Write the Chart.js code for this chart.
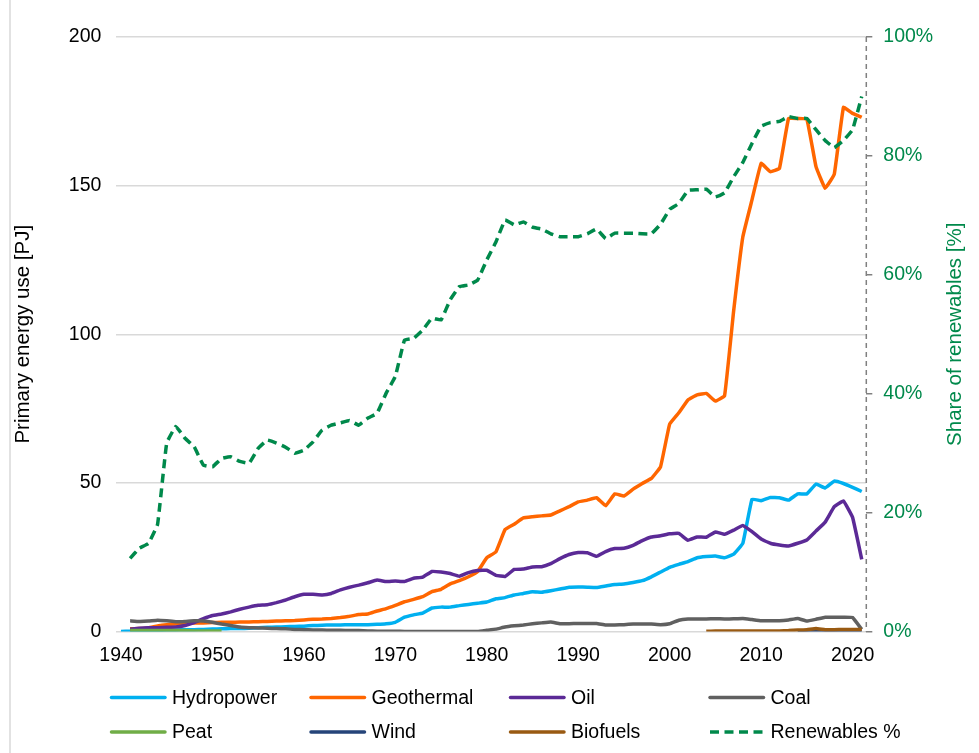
<!DOCTYPE html>
<html>
<head>
<meta charset="utf-8">
<title>Primary energy use and share of renewables</title>
<script src="https://cdn.jsdelivr.net/npm/chart.js@4/dist/chart.umd.min.js"></script>
<style>
  html, body { margin: 0; padding: 0; background: #ffffff; }
  #wrap { position: relative; width: 979px; height: 753px; }
  canvas { display: block; }
</style>
</head>
<body>
<div id="wrap"><canvas id="chart" width="979" height="753"></canvas></div>
<script>
// Years on the category axis
const years = [];
for (let y = 1940; y <= 2021; y++) years.push(y);

// Primary energy use by source [PJ], one value per year from 1940
const hydropower = [
  0.0, 0.1, 0.2, 0.3, 0.4, 0.5, 0.5, 0.6, 0.6, 0.7,
  0.8, 0.9, 1.0, 1.0, 1.1, 1.3, 1.4, 1.5, 1.6, 1.7,
  1.8, 2.0, 2.1, 2.2, 2.2, 2.3, 2.3, 2.3, 2.4, 2.6,
  3.1, 4.8, 5.6, 6.2, 7.9, 8.2, 8.2, 8.7, 9.1, 9.5,
  9.9, 11.0, 11.4, 12.3, 12.8, 13.4, 13.2, 13.7, 14.3, 14.9,
  15.0, 14.9, 14.8, 15.3, 15.8, 16.0, 16.5, 17.1, 18.4, 20.0,
  21.6, 22.6, 23.5, 24.8, 25.2, 25.4, 24.8, 26.0, 29.7, 44.5,
  44.0, 45.1, 45.0, 44.2, 46.3, 46.3, 49.6, 48.3, 50.6, 49.8,
  48.5, 47.1
];
const geothermal = [
  null, 0.9, 1.0, 1.2, 1.9, 2.3, 2.5, 2.7, 2.9, 2.9,
  3.0, 3.1, 3.1, 3.2, 3.2, 3.3, 3.4, 3.5, 3.6, 3.7,
  3.9, 4.1, 4.2, 4.4, 4.7, 5.1, 5.7, 5.9, 6.9, 7.7,
  8.8, 10.0, 10.8, 11.7, 13.4, 14.2, 16.0, 17.1, 18.4, 20.2,
  24.8, 26.8, 34.3, 36.1, 38.2, 38.6, 38.9, 39.2, 40.6, 42.0,
  43.6, 44.2, 45.0, 42.3, 46.3, 45.6, 47.9, 49.8, 51.5, 55.4,
  69.8, 73.6, 77.9, 79.6, 80.1, 77.5, 79.3, 108.0, 132.8, 145.2,
  157.5, 154.7, 155.8, 172.6, 172.6, 172.4, 156.4, 149.1, 153.9, 176.3,
  174.3, 173.0
];
const oil = [
  null, 0.8, 1.1, 1.3, 1.3, 1.4, 1.5, 2.0, 3.0, 4.3,
  5.4, 5.9, 6.6, 7.5, 8.2, 8.8, 9.0, 9.7, 10.6, 11.7,
  12.5, 12.5, 12.3, 12.8, 14.0, 14.9, 15.6, 16.4, 17.3, 16.8,
  17.0, 16.8, 17.9, 18.3, 20.2, 20.0, 19.5, 18.6, 19.8, 20.5,
  20.6, 18.9, 18.5, 20.9, 21.0, 21.7, 21.8, 22.8, 24.5, 25.9,
  26.6, 26.5, 25.3, 26.9, 27.9, 28.0, 29.0, 30.6, 31.8, 32.2,
  32.9, 33.0, 30.7, 31.8, 31.7, 33.5, 32.7, 34.1, 35.7, 33.6,
  31.1, 29.7, 29.1, 28.8, 29.7, 30.8, 33.8, 36.8, 42.0, 43.9,
  38.4, 24.3
];
const coal = [
  null, 3.6, 3.4, 3.5, 3.8, 3.6, 3.3, 3.4, 3.6, 3.5,
  3.1, 2.5, 2.0, 1.5, 1.3, 1.2, 1.1, 1.0, 0.9, 0.7,
  0.6, 0.5, 0.5, 0.4, 0.4, 0.3, 0.3, 0.2, 0.1, 0.1,
  0.1, 0.0, 0.0, 0.0, 0.0, 0.0, 0.0, 0.0, 0.0, 0.0,
  0.4, 0.8, 1.5, 1.9, 2.2, 2.6, 2.9, 3.2, 2.6, 2.6,
  2.7, 2.7, 2.7, 2.2, 2.2, 2.3, 2.5, 2.5, 2.5, 2.3,
  2.6, 3.8, 4.2, 4.2, 4.2, 4.3, 4.2, 4.3, 4.4, 4.0,
  3.6, 3.6, 3.6, 3.9, 4.4, 3.5, 4.1, 4.8, 4.8, 4.8,
  4.7, 0.7
];
const peat = [
  null, 0.3, 0.3, 0.3, 0.3, 0.3, 0.3, 0.3, 0.2, 0.2,
  0.2, 0.2, null, null, null, null, null, null, null, null,
  null, null, null, null, null, null, null, null, null, null,
  null, null, null, null, null, null, null, null, null, null,
  null, null, null, null, null, null, null, null, null, null,
  null, null, null, null, null, null, null, null, null, null,
  null, null, null, null, null, null, null, null, null, null,
  null, null, null, null, null, null, null, null, null, null,
  null, null
];
const wind = [
  null, null, null, null, null, null, null, null, null, null,
  null, null, null, null, null, null, null, null, null, null,
  null, null, null, null, null, null, null, null, null, null,
  null, null, null, null, null, null, null, null, null, null,
  null, null, null, null, null, null, null, null, null, null,
  null, null, null, null, null, null, null, null, null, null,
  null, null, null, null, null, null, null, null, null, null,
  null, null, null, null, 0.02, 0.03, 0.05, 0.05, 0.05, 0.05,
  0.05, 0.05
];
const biofuels = [
  null, null, null, null, null, null, null, null, null, null,
  null, null, null, null, null, null, null, null, null, null,
  null, null, null, null, null, null, null, null, null, null,
  null, null, null, null, null, null, null, null, null, null,
  null, null, null, null, null, null, null, null, null, null,
  null, null, null, null, null, null, null, null, null, null,
  null, null, null, null, 0.1, 0.15, 0.2, 0.2, 0.2, 0.2,
  0.2, 0.2, 0.2, 0.3, 0.5, 0.6, 1.0, 0.6, 0.6, 0.7,
  0.7, 0.7
];

// Share of renewables in primary energy use [%]
const renewablesShare = [
  null, 12.3, 14.0, 14.8, 18.0, 31.7, 34.5, 32.5, 31.1, 28.0,
  27.7, 29.1, 29.4, 28.6, 28.3, 30.8, 32.2, 31.7, 31.0, 30.0,
  30.5, 31.9, 33.9, 34.7, 35.1, 35.5, 34.7, 35.9, 36.7, 40.1,
  42.9, 49.0, 49.3, 50.7, 52.7, 52.4, 55.8, 58.0, 58.3, 59.1,
  62.5, 65.5, 69.2, 68.4, 68.9, 68.0, 67.7, 66.9, 66.4, 66.4,
  66.4, 66.9, 67.7, 66.1, 67.0, 67.0, 67.0, 66.9, 66.9, 68.5,
  71.0, 72.0, 74.2, 74.3, 74.4, 73.1, 73.8, 76.5, 78.9, 82.1,
  85.0, 85.6, 85.8, 86.6, 86.3, 86.3, 84.4, 82.6, 81.4, 82.6,
  84.4, 90.0
];

// Axis tick settings
const energyTicks = { min: 0, max: 200, step: 50 };
const shareTicks = { min: 0, max: 100, step: 20 };
const yearLabelEvery = 10;
const shareTitle = 'Share of renewables [%]';

const FONT = '"Liberation Sans", Arial, Helvetica, sans-serif';
const GREEN = '#00894B';
const SHARE_DASH = [9, 5.5];

function line(label, data, color, order, extra) {
  return Object.assign({
    label, data, order,
    borderColor: color,
    backgroundColor: color,
    borderWidth: 3.5,
    pointRadius: 0,
    pointHoverRadius: 0,
    tension: 0.08,
    borderJoinStyle: 'round',
    fill: false,
    spanGaps: false,
    yAxisID: 'y'
  }, extra || {});
}

// White background and the thin frame line on the left edge
const framePlugin = {
  id: 'frame',
  beforeDraw(chart) {
    const ctx = chart.ctx;
    ctx.save();
    ctx.fillStyle = '#ffffff';
    ctx.fillRect(0, 0, chart.width, chart.height);
    ctx.strokeStyle = '#d9d9d9';
    ctx.lineWidth = 1.5;
    ctx.beginPath();
    ctx.moveTo(10, 0);
    ctx.lineTo(10, chart.height);
    ctx.stroke();
    ctx.restore();
  }
};

// Dashed secondary axis line and its title, read bottom to top
const shareAxisPlugin = {
  id: 'shareAxis',
  afterDraw(chart) {
    const ctx = chart.ctx;
    const s = chart.scales.y1;
    const x = s.left;
    ctx.save();
    ctx.strokeStyle = '#808080';
    ctx.lineWidth = 1.5;
    ctx.setLineDash([5, 4]);
    ctx.beginPath();
    ctx.moveTo(x, s.top);
    ctx.lineTo(x, s.bottom);
    ctx.stroke();
    ctx.setLineDash([]);
    ctx.translate(955, (s.top + s.bottom) / 2);
    ctx.rotate(-Math.PI / 2);
    ctx.font = '20.5px ' + FONT;
    ctx.fillStyle = GREEN;
    ctx.textAlign = 'center';
    ctx.textBaseline = 'middle';
    ctx.fillText(shareTitle, 0, 0);
    ctx.restore();
  }
};

// Four-column legend under the plot
const gridLegendPlugin = {
  id: 'gridLegend',
  afterDraw(chart) {
    const ctx = chart.ctx;
    const sets = chart.data.datasets;
    ctx.save();
    ctx.font = '19.5px ' + FONT;
    ctx.textBaseline = 'middle';
    ctx.textAlign = 'left';
    sets.forEach((ds, i) => {
      const col = i % 4, row = Math.floor(i / 4);
      const x0 = 110 + col * 199.5;
      const y = 697.5 + row * 34.5;
      ctx.strokeStyle = ds.borderColor;
      ctx.lineWidth = 3.5;
      ctx.lineCap = ds.borderDash ? 'butt' : 'round';
      ctx.setLineDash(ds.borderDash || []);
      ctx.beginPath();
      ctx.moveTo(x0 + 1.5, y);
      ctx.lineTo(x0 + 55, y);
      ctx.stroke();
      ctx.setLineDash([]);
      ctx.fillStyle = '#000000';
      ctx.fillText(ds.label, x0 + 62, y + 1);
    });
    ctx.restore();
  }
};

new Chart(document.getElementById('chart'), {
  type: 'line',
  data: {
    labels: years,
    datasets: [
      line('Hydropower', hydropower, '#00B0F0', 8),
      line('Geothermal', geothermal, '#FF6600', 7),
      line('Oil', oil, '#5B2A96', 6),
      line('Coal', coal, '#606060', 5),
      line('Peat', peat, '#70AD47', 4),
      line('Wind', wind, '#254479', 3),
      line('Biofuels', biofuels, '#995A12', 2),
      line('Renewables %', renewablesShare, GREEN, 1, {
        yAxisID: 'y1',
        borderDash: SHARE_DASH
      })
    ]
  },
  options: {
    responsive: false,
    animation: false,
    devicePixelRatio: 1,
    layout: { padding: { top: 37, left: 0, right: 0, bottom: 0 } },
    plugins: {
      legend: { display: false },
      tooltip: { enabled: false }
    },
    scales: {
      x: {
        type: 'category',
        offset: true,
        grid: { display: false, drawTicks: false },
        border: { display: false },
        ticks: {
          autoSkip: false,
          maxRotation: 0,
          minRotation: 0,
          padding: 12,
          color: '#000000',
          font: { family: FONT, size: 19.5 },
          callback(value, index) {
            const yr = years[index];
            return yr % yearLabelEvery === 0 ? String(yr) : '';
          }
        },
        afterFit(scale) { scale.height = 753 - 631.5; }
      },
      y: {
        position: 'left',
        min: energyTicks.min,
        max: energyTicks.max,
        ticks: {
          stepSize: energyTicks.step,
          padding: 15,
          color: '#000000',
          font: { family: FONT, size: 19.5 }
        },
        grid: { color: '#d9d9d9', lineWidth: 1.5, drawTicks: false },
        border: { display: false },
        title: {
          display: true,
          text: 'Primary energy use [PJ]',
          color: '#000000',
          font: { family: FONT, size: 20.5 },
          padding: { top: 11, bottom: 0 }
        },
        afterFit(scale) { scale.width = 116.4; }
      },
      y1: {
        position: 'right',
        min: shareTicks.min,
        max: shareTicks.max,
        ticks: {
          stepSize: shareTicks.step,
          padding: 11,
          color: GREEN,
          font: { family: FONT, size: 19.5 },
          callback: v => v + '%'
        },
        grid: {
          drawOnChartArea: false,
          drawTicks: true,
          tickLength: 6,
          color: '#808080',
          lineWidth: 1.5
        },
        border: { display: false },
        title: { display: false },
        afterFit(scale) { scale.width = 979 - 866.3; }
      }
    }
  },
  plugins: [framePlugin, shareAxisPlugin, gridLegendPlugin]
});
</script>
</body>
</html>
